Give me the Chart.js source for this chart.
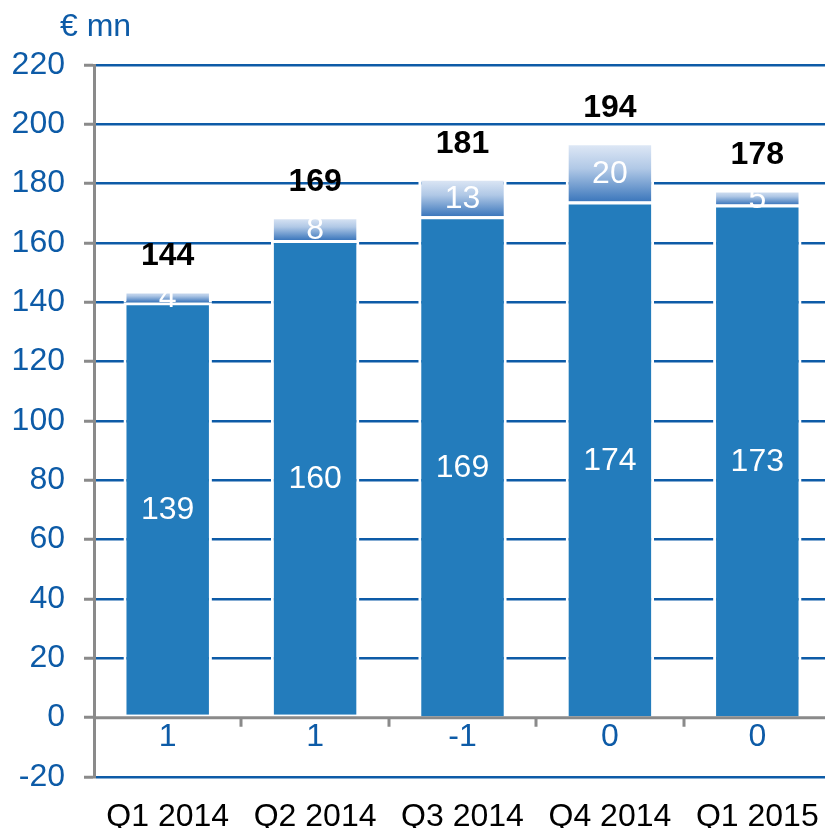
<!DOCTYPE html>
<html>
<head>
<meta charset="utf-8">
<title>€ mn by quarter</title>
<script src="https://cdn.jsdelivr.net/npm/chart.js@4.4.0/dist/chart.umd.min.js"></script>
<style>
  html, body { margin: 0; padding: 0; background: #fff; overflow: hidden; }
  #wrap { width: 832px; height: 828px; }
</style>
</head>
<body>
<div id="wrap"><canvas id="chart"></canvas></div>
<script>
  // -- Data --
  var quarters = ['Q1 2014', 'Q2 2014', 'Q3 2014', 'Q4 2014', 'Q1 2015'];
  var otherValues = [1, 1, -1, 0, 0];
  var coreValues = [139, 160, 169, 174, 173];
  var extraValues = [4, 8, 13, 20, 5];
  var totalValues = [144, 169, 181, 194, 178];
  var yMin = -20;
  var yMax = 220;
  var yStep = 20;
  var unitLabel = '€ mn';

  var FONT = '"Liberation Sans", Arial, sans-serif';
  var SIZE = 32;
  var blue = '#0d5ba7';
  var barBlue = '#237cbc';
  var gray = '#8a8a8a';

  // top segment: light at the top, darker towards the core bar
  function extraGradient(c) {
    var chart = c.chart;
    if (!chart.chartArea || c.type !== 'data') {
      return '#8fb0da';
    }
    var ys = chart.scales.y;
    var i = c.dataIndex;
    var base = Math.max(otherValues[i], 0) + coreValues[i];
    var top = ys.getPixelForValue(base + extraValues[i]);
    var bottom = ys.getPixelForValue(base);
    var g = chart.ctx.createLinearGradient(0, top, 0, bottom);
    g.addColorStop(0, '#e3ebf7');
    g.addColorStop(0.45, '#b0c8e6');
    g.addColorStop(1, '#3c77bc');
    return g;
  }

  // -- Labels, zero axis and unit caption --
  var barLabels = {
    id: 'barLabels',
    afterDatasetsDraw: function (chart) {
      var ctx = chart.ctx;
      var xs = chart.scales.x;
      var ys = chart.scales.y;
      var area = chart.chartArea;
      var zero = ys.getPixelForValue(0);
      var core = chart.getDatasetMeta(1).data;
      var extra = chart.getDatasetMeta(2).data;

      ctx.save();
      ctx.strokeStyle = gray;
      ctx.lineWidth = 3;
      ctx.beginPath();
      ctx.moveTo(area.left, zero);
      ctx.lineTo(area.right, zero);
      for (var k = 0; k < quarters.length - 1; k++) {
        var xb = Math.round((xs.getPixelForValue(k) + xs.getPixelForValue(k + 1)) / 2);
        ctx.moveTo(xb, zero);
        ctx.lineTo(xb, zero + 9);
      }
      ctx.stroke();

      ctx.textAlign = 'center';
      ctx.textBaseline = 'middle';
      for (var i = 0; i < quarters.length; i++) {
        var bx = core[i].x;
        ctx.font = SIZE + 'px ' + FONT;
        ctx.fillStyle = blue;
        ctx.fillText(String(otherValues[i]), bx, zero + 20);
        ctx.fillStyle = '#fff';
        ctx.fillText(String(coreValues[i]), bx, (core[i].y + core[i].base) / 2 + 2);
        ctx.fillText(String(extraValues[i]), bx, (extra[i].y + extra[i].base) / 2 + 2);
        ctx.font = 'bold ' + SIZE + 'px ' + FONT;
        ctx.fillStyle = '#000';
        ctx.fillText(String(totalValues[i]), bx, extra[i].y - 34);
      }

      ctx.font = SIZE + 'px ' + FONT;
      ctx.textAlign = 'left';
      ctx.fillStyle = blue;
      ctx.fillText(unitLabel, 60, 27);
      ctx.restore();
    }
  };

  new Chart(document.getElementById('chart').getContext('2d'), {
    type: 'bar',
    data: {
      labels: quarters,
      datasets: [
        {
          label: 'Other',
          data: otherValues,
          backgroundColor: 'rgba(0,0,0,0)',
          borderWidth: 0
        },
        {
          label: 'Core',
          data: coreValues,
          backgroundColor: barBlue,
          borderColor: '#fff',
          borderWidth: 3
        },
        {
          label: 'Extra',
          data: extraValues,
          backgroundColor: extraGradient,
          borderColor: '#fff',
          borderWidth: 3
        }
      ]
    },
    options: {
      responsive: true,
      maintainAspectRatio: false,
      animation: false,
      layout: { padding: { top: 65, right: 1, bottom: 0, left: 0 } },
      datasets: {
        bar: { barPercentage: 0.6, categoryPercentage: 1 }
      },
      plugins: {
        legend: { display: false },
        tooltip: { enabled: false }
      },
      scales: {
        x: {
          stacked: true,
          grid: { display: false },
          border: { display: false },
          ticks: {
            color: '#000',
            font: { family: FONT, size: SIZE },
            padding: 13,
            maxRotation: 0,
            autoSkip: false
          },
          afterFit: function (scale) { scale.height = 51; }
        },
        y: {
          stacked: true,
          min: yMin,
          max: yMax,
          grid: {
            color: function (c) {
              return c.tick && c.tick.value === 0 ? 'rgba(0,0,0,0)' : blue;
            },
            lineWidth: 2.5,
            tickColor: gray,
            tickLength: 10,
            tickWidth: 3
          },
          border: { color: gray, width: 3 },
          ticks: {
            stepSize: yStep,
            color: blue,
            font: { family: FONT, size: SIZE },
            padding: 19
          },
          afterFit: function (scale) { scale.width = 94; }
        }
      }
    },
    plugins: [barLabels]
  });
</script>
</body>
</html>
